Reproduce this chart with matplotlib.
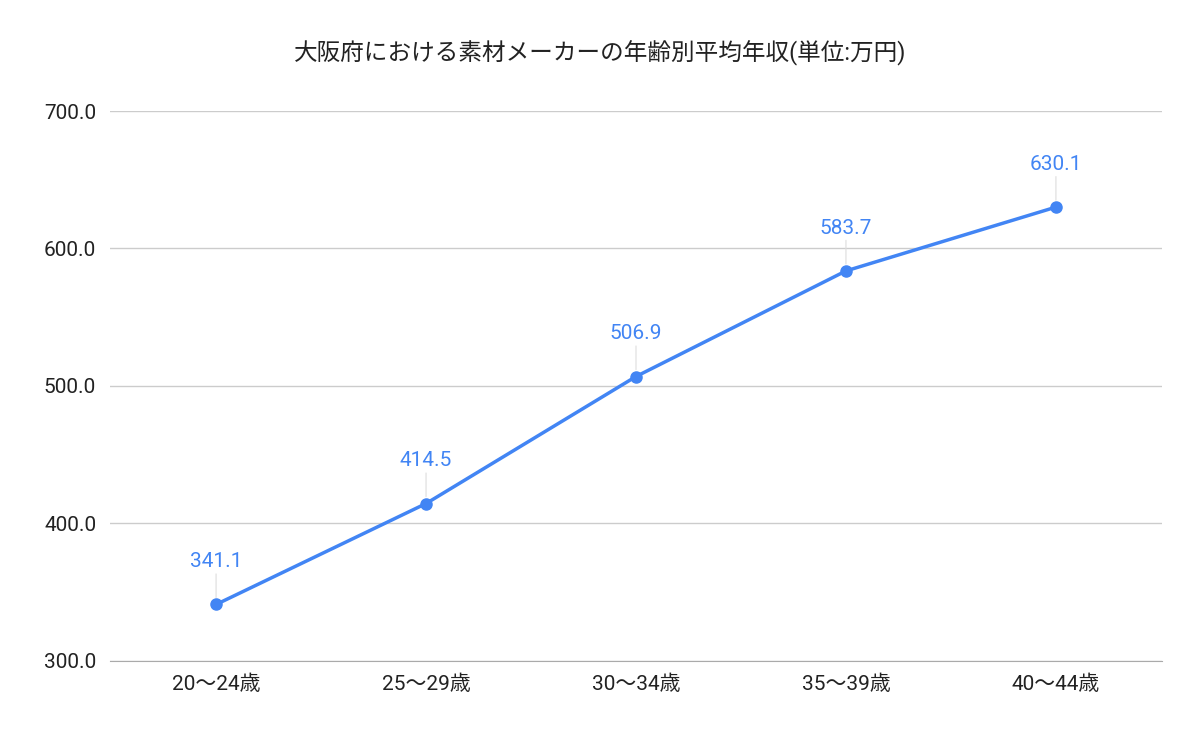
import matplotlib.pyplot as plt

plt.rcParams['font.family'] = ['Roboto', 'Noto Sans CJK JP', 'DejaVu Sans']

categories = ["20〜24歳", "25〜29歳", "30〜34歳", "35〜39歳", "40〜44歳"]
values = [341.1, 414.5, 506.9, 583.7, 630.1]
title = "大阪府における素材メーカーの年齢別平均年収(単位:万円)"

fig = plt.figure(figsize=(12, 7.42), dpi=100)
ax = fig.add_axes([0.0917, 0.1092, 0.8766, 0.7412])

x = list(range(len(categories)))
ax.plot(x, values, color='#4285F4', linewidth=2.5, marker='o', markersize=8, zorder=3)

for xi, v in zip(x, values):
    ax.annotate(f"{v:.1f}", xy=(xi, v), xytext=(0, 24), textcoords='offset points',
                ha='center', va='bottom', fontsize=15, color='#4285F4',
                arrowprops=dict(arrowstyle='-', color='#dddddd', lw=0.8, shrinkA=0, shrinkB=5))

ax.set_xlim(-0.505, 4.505)
ax.set_ylim(300, 700)
ax.set_yticks([300, 400, 500, 600, 700])
ax.set_yticklabels([f"{t:.1f}" for t in [300, 400, 500, 600, 700]])
ax.set_xticks(x)
ax.set_xticklabels(categories)
ax.grid(axis='y', color='#cccccc', linewidth=1)
ax.set_axisbelow(True)
for s in ['top', 'right', 'left']:
    ax.spines[s].set_visible(False)
ax.spines['bottom'].set_color('#aaaaaa')
ax.tick_params(axis='both', length=0, labelsize=15, colors='#222222', pad=10)
ax.tick_params(axis='y', pad=10)

fig.text(0.5, 0.928, title, ha='center', va='center', fontsize=17, color='#222222')

fig.savefig('out.png', dpi=100)
